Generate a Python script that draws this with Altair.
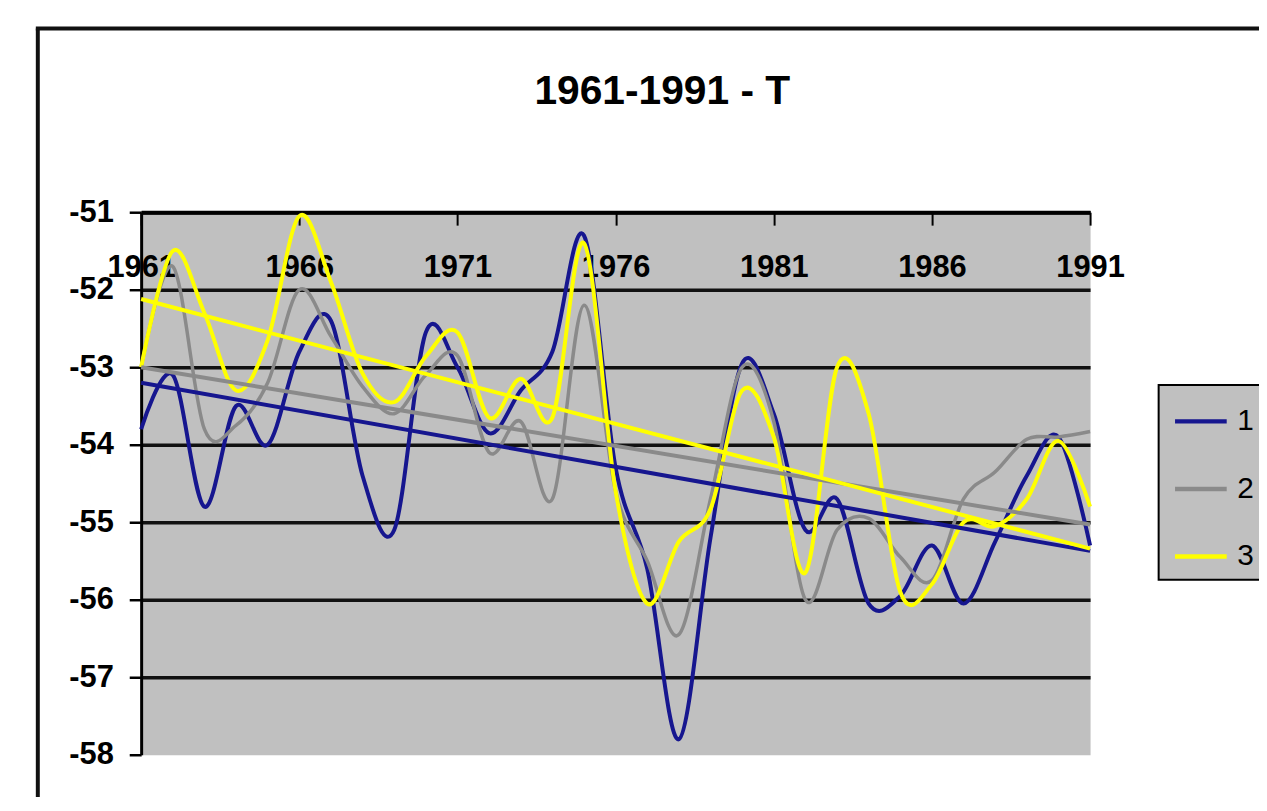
import altair as alt
import pandas as pd

years = [1961, 1962, 1963, 1964, 1965, 1966, 1967, 1968, 1969, 1970,
         1971, 1972, 1973, 1974, 1975, 1976, 1977, 1978, 1979, 1980,
         1981, 1982, 1983, 1984, 1985, 1986, 1987, 1988, 1989, 1990, 1991]

series1 = [-53.8, -53.1, -54.8, -53.5, -54.0, -52.8, -52.4, -54.4, -55.1, -52.55,
           -53.0, -53.85, -53.3, -52.8, -51.3, -54.3, -55.6, -57.8, -55.2, -52.95,
           -53.6, -55.1, -54.7, -56.05, -55.95, -55.3, -56.05, -55.25, -54.4, -53.9, -55.3]

series2 = [-53.0, -51.7, -53.8, -53.75, -53.2, -52.0, -52.6, -53.25, -53.6, -53.1,
           -52.85, -54.1, -53.7, -54.7, -52.2, -54.6, -55.5, -56.45, -54.7, -53.0,
           -53.7, -56.0, -55.1, -54.95, -55.45, -55.75, -54.7, -54.35, -53.93, -53.9, -53.83]

series3 = [-53.0, -51.5, -52.3, -53.3, -52.65, -51.05, -51.9, -53.08, -53.45, -52.86,
           -52.55, -53.65, -53.15, -53.65, -51.4, -54.6, -56.05, -55.25, -54.83, -53.3,
           -53.9, -55.65, -53.0, -53.6, -55.9, -55.8, -55.0, -55.05, -54.7, -53.95, -54.8]

series_names = ["1", "2", "3"]
series_colors = ["#16168f", "#8a8a8a", "#ffff00"]

trend_start = [-53.2, -53.0, -52.12]
trend_end = [-55.37, -55.03, -55.34]

y_ticks = [-58, -57, -56, -55, -54, -53, -52, -51]
x_ticks = [1961, 1966, 1971, 1976, 1981, 1986, 1991]

title_text = "1961-1991 - T"

rows = []
for name, vals in zip(series_names, [series1, series2, series3]):
    for yr, v in zip(years, vals):
        rows.append({"year": yr, "value": v, "series": name})
df = pd.DataFrame(rows)

trend_rows = []
for name, s, e in zip(series_names, trend_start, trend_end):
    trend_rows.append({"year": years[0], "value": s, "series": name})
    trend_rows.append({"year": years[-1], "value": e, "series": name})
tdf = pd.DataFrame(trend_rows)

FONT = "Liberation Sans, Arial, Helvetica, sans-serif"
W, H = 955, 546

x_enc = alt.X(
    "year:Q",
    scale=alt.Scale(domain=[years[0], years[-1]], nice=False, zero=False),
    axis=alt.Axis(
        orient="bottom", offset=-H, values=x_ticks, title=None,
        labelExpr="'' + datum.value",
        grid=False, domainColor="black", domainWidth=4,
        tickColor="black", tickWidth=2, tickSize=13,
        labelFont=FONT, labelFontSize=31, labelFontWeight="bold",
        labelColor="black", labelPadding=28, labelFlush=False, labelOverlap=False,
    ),
)
y_enc = alt.Y(
    "value:Q",
    scale=alt.Scale(domain=[y_ticks[0], y_ticks[-1]], nice=False, zero=False),
    axis=alt.Axis(
        values=y_ticks, title=None, labelExpr="'' + datum.value",
        grid=True, gridWidth=3.5,
        gridColor={"condition": {"test": "datum.value === -58", "value": "transparent"},
                   "value": "#111111"},
        domainColor="black", domainWidth=3,
        tickColor="black", tickWidth=2.5, tickSize=12,
        labelFont=FONT, labelFontSize=31, labelFontWeight="bold",
        labelColor="black", labelPadding=16, labelFlush=False, labelOverlap=False,
    ),
)
color_enc = alt.Color(
    "series:N",
    scale=alt.Scale(domain=series_names, range=series_colors),
    legend=alt.Legend(
        title=None, orient="none", legendX=1024, legendY=174,
        direction="vertical", symbolType="stroke", symbolSize=2704,
        symbolStrokeWidth=4.5, symbolOffset=6, labelFont=FONT, labelFontSize=30,
        labelColor="black", labelOffset=8, rowPadding=24,
        fillColor="#c0c0c0", strokeColor="black", padding=8,
    ),
)

frame_data = alt.Data(values=[{"k": 1}])
frame_left = alt.Chart(frame_data).mark_rule(color="#111111", strokeWidth=4).encode(
    x=alt.value(-104), y=alt.value(-185), y2=alt.value(700)
)
frame_top = alt.Chart(frame_data).mark_rule(color="#111111", strokeWidth=4).encode(
    x=alt.value(-106), x2=alt.value(1300), y=alt.value(-185)
)

layers = [frame_left, frame_top]
for name, w in zip(series_names, [4, 3.5, 4]):
    layers.append(
        alt.Chart(df).transform_filter(alt.datum.series == name)
        .mark_line(interpolate="cardinal", strokeWidth=w)
        .encode(x=x_enc, y=y_enc, color=color_enc)
    )
for name in series_names:
    layers.append(
        alt.Chart(tdf).transform_filter(alt.datum.series == name)
        .mark_line(strokeWidth=4)
        .encode(x=x_enc, y=y_enc, color=color_enc)
    )

chart = (
    alt.layer(*layers)
    .properties(
        width=W, height=H,
        title=alt.TitleParams(
            title_text, font=FONT, fontSize=41, fontWeight="bold", color="black",
            anchor="middle", dx=47, dy=119, offset=0, baseline="alphabetic",
        ),
        autosize=alt.AutoSizeParams(type="none"),
        padding={"left": 134, "top": 203, "right": 170, "bottom": 40},
        background="white",
    )
    .configure_view(fill="#c0c0c0", stroke="transparent")
    .configure_legend(strokeWidth=2)
)

chart.save("out.html", embed_options={"renderer": "svg", "actions": False})
